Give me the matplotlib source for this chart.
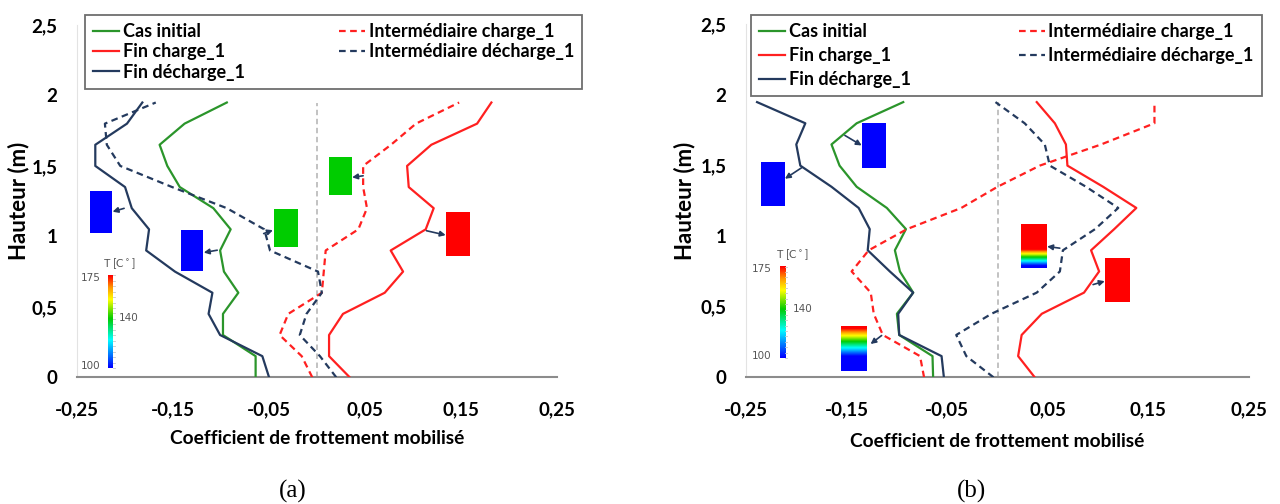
import numpy as np
import matplotlib
matplotlib.use("Agg")
import matplotlib.pyplot as plt
from matplotlib.colors import LinearSegmentedColormap

plt.rcParams['font.family'] = ['Lato', 'DejaVu Sans']

# hauteurs (m), du pied vers le haut
heights = [0, 0.15, 0.3, 0.45, 0.6, 0.75, 0.9, 1.05, 1.2, 1.35, 1.5, 1.65, 1.8, 1.95]

# (a)
a_initial = [-0.064, -0.064, -0.098, -0.098, -0.082, -0.097, -0.101, -0.090, -0.108, -0.143, -0.156, -0.164, -0.138, -0.094]
a_fin_charge = [0.034, 0.0125, 0.0125, 0.027, 0.0705, 0.0896, 0.0767, 0.1132, 0.1215, 0.0955, 0.0938, 0.119, 0.1667, 0.1816]
a_fin_decharge = [-0.050, -0.057, -0.101, -0.113, -0.109, -0.148, -0.178, -0.175, -0.193, -0.200, -0.231, -0.231, -0.198, -0.182]
a_int_charge = [-0.005, -0.016, -0.039, -0.030, 0.005, 0.007, 0.009, 0.043, 0.052, 0.048, 0.048, 0.077, 0.103, 0.148]
a_int_decharge = [0.020, 0.003, -0.018, -0.011, 0.005, 0.001, -0.049, -0.055, -0.094, -0.151, -0.205, -0.219, -0.221, -0.168]

# (b)
b_initial = [-0.064, -0.0646, -0.0977, -0.100, -0.0838, -0.097, -0.102, -0.091, -0.110, -0.140, -0.157, -0.165, -0.140, -0.0937]
b_fin_charge = [0.037, 0.0205, 0.024, 0.044, 0.086, 0.101, 0.093, 0.116, 0.138, 0.105, 0.0695, 0.068, 0.057, 0.039]
b_fin_decharge = [-0.0533, -0.0556, -0.0977, -0.0987, -0.0838, -0.107, -0.129, -0.127, -0.138, -0.165, -0.196, -0.200, -0.191, -0.239]
b_int_charge = [-0.073, -0.077, -0.114, -0.123, -0.126, -0.145, -0.128, -0.090, -0.036, 0.000, 0.042, 0.103, 0.156, 0.156]
b_int_decharge = [-0.004, -0.031, -0.041, -0.006, 0.039, 0.062, 0.065, 0.097, 0.120, 0.088, 0.052, 0.047, 0.027, -0.002]

labels = ["Cas initial", "Fin charge_1", "Fin décharge_1",
          "Intermédiaire charge_1", "Intermédiaire décharge_1"]
xticks = [-0.25, -0.15, -0.05, 0.05, 0.15, 0.25]
yticks = [0, 0.5, 1, 1.5, 2, 2.5]
cbar_ticks = [100, 140, 175]

# petites vignettes de température : (x0, y0, x1, y1, profil)
# profil = (positions relatives, températures)
HOT = ([0, 1], [175, 175])
MID = ([0, 1], [140, 140])
COLD = ([0, 1], [100, 100])
a_boxes = [(-0.236, 1.025, -0.2135, 1.322, COLD), (-0.1417, 0.755, -0.1198, 1.044, COLD),
           (-0.0451, 0.926, -0.0208, 1.19, MID), (0.0122, 1.294, 0.0358, 1.562, MID),
           (0.134, 0.862, 0.158, 1.17, HOT)]
a_arrows = [((-0.201, 1.199), (-0.213, 1.175)), ((-0.104, 0.902), (-0.118, 0.885)),
            ((-0.0556, 1.02), (-0.046, 1.044)), ((0.048, 1.43), (0.0365, 1.419)),
            ((0.114, 1.04), (0.134, 1.009))]
b_boxes = [(-0.2354, 1.217, -0.2119, 1.525, COLD), (-0.1351, 1.482, -0.1119, 1.797, COLD),
           (-0.156, 0.0426, -0.131, 0.355, ([0, 0.33, 0.95, 1], [100, 100, 175, 175])),
           (0.0238, 0.773, 0.0487, 1.083, ([0, 0.05, 0.42, 1], [100, 100, 175, 175])),
           (0.1066, 0.532, 0.1305, 0.839, HOT)]
b_arrows = [((-0.1517, 1.714), (-0.135, 1.643)), ((-0.1947, 1.485), (-0.2113, 1.407)),
            ((-0.1152, 0.296), (-0.1262, 0.236)), ((0.0619, 0.915), (0.0493, 0.927)),
            ((0.095, 0.657), (0.1066, 0.681))]
a_cbar = (-0.2177, 0.066, -0.2128, 0.724)
b_cbar = (-0.216, 0.137, -0.211, 0.785)

GREEN = '#2b952b'
RED = '#ff2020'
NAVY = '#243a5e'
temp_cmap = LinearSegmentedColormap.from_list(
    'temp', [(0, '#0000ff'), (0.3, '#00ffff'), (0.533, '#00cc00'),
             (0.74, '#ffff00'), (0.87, '#ff9900'), (1, '#ff0000')])


def comma(v):
    return f"{v:g}".replace('.', ',')


def draw_panel(ax, series, boxes, arrows, cbar, legend_box, legend_spacing, ylab_x):
    styles = [(GREEN, '-'), (RED, '-'), (NAVY, '-'), (RED, (0, (3, 2))), (NAVY, (0, (3, 2)))]
    handles = []
    for vals, (col, ls), lab in zip(series, styles, labels):
        ln, = ax.plot(vals, heights, color=col, ls=ls, lw=1.6, label=lab, zorder=3)
        handles.append(ln)
    ax.vlines(0, 0, max(heights), colors='#bdbdbd', linestyles=(0, (3, 2)), lw=1.3, zorder=1)

    for x0, y0, x1, y1, (pos, temps) in boxes:
        rows = np.interp(np.linspace(0, 1, 100), pos, temps)
        ax.imshow(rows[:, None], extent=(x0, x1, y0, y1), origin='lower', aspect='auto',
                  cmap=temp_cmap, vmin=100, vmax=175, interpolation='bilinear', zorder=4)
    for start, end in arrows:
        ax.annotate('', xy=end, xytext=start,
                    arrowprops=dict(arrowstyle='-|>', color=NAVY, lw=1.2,
                                    mutation_scale=8, shrinkA=0, shrinkB=0), zorder=5)

    # échelle de température
    cx0, cy0, cx1, cy1 = cbar
    ax.imshow(np.linspace(100, 175, 100)[:, None], extent=(cx0, cx1, cy0, cy1),
              origin='lower', aspect='auto', cmap=temp_cmap, vmin=100, vmax=175, zorder=4)
    for t in np.linspace(cy0, cy1, 18):
        ax.plot([cx1, cx1 + 0.002], [t, t], color='#c8c8c8', lw=0.6, zorder=4)
    span = cy1 - cy0
    ax.text(cx0 - 0.018, cy1 - 0.02, str(cbar_ticks[2]), fontsize=7.5, color='#555555',
            ha='center', va='center', family='Liberation Sans Narrow')
    ax.text(cx1 + 0.017, cy0 + span * 0.54, str(cbar_ticks[1]), fontsize=7.5, color='#555555',
            ha='center', va='center', family='Liberation Sans Narrow')
    ax.text(cx0 - 0.018, cy0 + 0.015, str(cbar_ticks[0]), fontsize=7.5, color='#555555',
            ha='center', va='center', family='Liberation Sans Narrow')
    ax.text(cx0 + 0.012, cy1 + 0.085, 'T [C$^\\circ$]', fontsize=8, color='#555555',
            ha='center', va='center')

    ax.set_xlim(-0.25, 0.25)
    ax.set_ylim(0, 2.5)
    ax.set_xticks(xticks)
    ax.set_xticklabels([comma(v) for v in xticks])
    ax.set_yticks(yticks)
    ax.set_yticklabels([comma(v) for v in yticks])
    ax.tick_params(length=0, labelsize=13.5)
    ax.tick_params(axis='x', pad=17)
    ax.tick_params(axis='y', pad=14)
    for t in ax.get_xticklabels() + ax.get_yticklabels():
        t.set_fontweight('bold')
    for s in ['top', 'right']:
        ax.spines[s].set_visible(False)
    ax.spines['left'].set_color('#e3e3e3')
    ax.spines['left'].set_linewidth(0.8)
    ax.spines['bottom'].set_color('#8c8c8c')
    ax.spines['bottom'].set_linewidth(1.5)

    ax.set_xlabel('Coefficient de frottement mobilisé', fontsize=13.8, fontweight='bold')
    ax.xaxis.set_label_coords(0.5, -0.15)
    ax.set_ylabel('Hauteur (m)', fontsize=16, fontweight='bold')
    ax.yaxis.set_label_coords(ylab_x, 0.5)

    leg = ax.legend(handles, labels, ncol=2, loc='upper left', bbox_to_anchor=legend_box,
                    bbox_transform=ax.figure.transFigure, mode='expand', borderaxespad=0,
                    fancybox=False, edgecolor='#4a4a4a', handlelength=1.45,
                    handletextpad=0.2, labelspacing=legend_spacing, borderpad=0.45,
                    columnspacing=1.0, prop={'size': 13, 'weight': 'bold'})
    leg.get_frame().set_linewidth(1.3)


fig = plt.figure(figsize=(12.8, 5.04), dpi=100)
ax_a = fig.add_axes([0.0602, 0.2514, 0.375, 0.699])
ax_b = fig.add_axes([0.5828, 0.2514, 0.393, 0.700])

draw_panel(ax_a, [a_initial, a_fin_charge, a_fin_decharge, a_int_charge, a_int_decharge],
           a_boxes, a_arrows, a_cbar, (85 / 1280, 1 - 86 / 504, 497 / 1280, 71 / 504), 0.18, -0.1)
draw_panel(ax_b, [b_initial, b_fin_charge, b_fin_decharge, b_int_charge, b_int_decharge],
           b_boxes, b_arrows, b_cbar, (751 / 1280, 1 - 95 / 504, 511 / 1280, 80 / 504), 0.38, -0.1)
ax_b.xaxis.set_label_coords(0.5, -0.158)

fig.text(293 / 1280, 1 - 491 / 504, '(a)', family='Liberation Serif', fontsize=18,
         ha='center', va='center')
fig.text(972 / 1280, 1 - 491 / 504, '(b)', family='Liberation Serif', fontsize=18,
         ha='center', va='center')

fig.savefig('out.png', dpi=100)
